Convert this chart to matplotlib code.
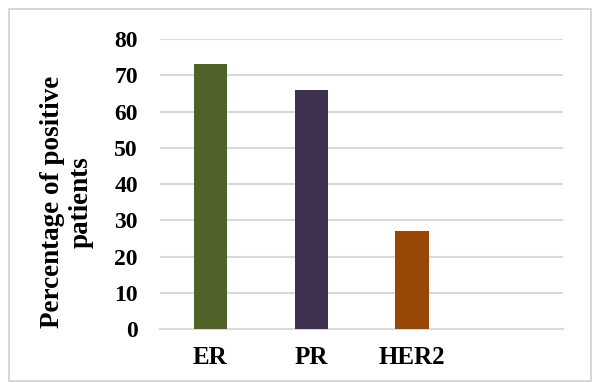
import numpy as np
import matplotlib.pyplot as plt
from matplotlib.patches import Rectangle

# receptor status, % positive
categories = ['ER', 'PR', 'HER2']
values = [73, 66, 27]
colors = ['#4F6228', '#403151', '#974806']
yticks = [0, 10, 20, 30, 40, 50, 60, 70, 80]

plt.rcParams['font.family'] = ['Liberation Serif', 'DejaVu Serif']
plt.rcParams['font.weight'] = 'bold'

fig = plt.figure(figsize=(5.92, 3.83), dpi=100)
ax = fig.add_axes([0.2703, 0.141, 0.681, 0.757])

x = np.arange(len(categories))
ax.bar(x, values, width=0.33, color=colors, zorder=3)

ax.set_xlim(-0.5, 3.5)
ax.set_ylim(0, 80)
ax.set_yticks(yticks)
ax.set_yticklabels([str(v) for v in yticks], fontsize=17, fontweight='bold')
ax.set_xticks(x)
ax.set_xticklabels(categories, fontsize=18, fontweight='bold')
ax.tick_params(length=0)
ax.tick_params(axis='y', pad=16)
ax.tick_params(axis='x', pad=12)

ax.grid(axis='y', color='#D9D9D9', linewidth=1.5, zorder=0)
for s in ['top', 'right', 'left']:
    ax.spines[s].set_visible(False)
ax.spines['bottom'].set_color('#D9D9D9')
ax.spines['bottom'].set_linewidth(1.5)

ax.set_ylabel('Percentage of positive\npatients', fontsize=19.5, fontweight='bold',
              linespacing=1.2)
ax.yaxis.set_label_coords(-0.165, 0.438)

# thin frame around the chart area
fig.patches.append(Rectangle((9 / 592, 2 / 383), 582 / 592, 372 / 383,
                             transform=fig.transFigure, fill=False,
                             edgecolor='#D0D0D0', linewidth=1.2))

fig.savefig('out.png', dpi=100)
